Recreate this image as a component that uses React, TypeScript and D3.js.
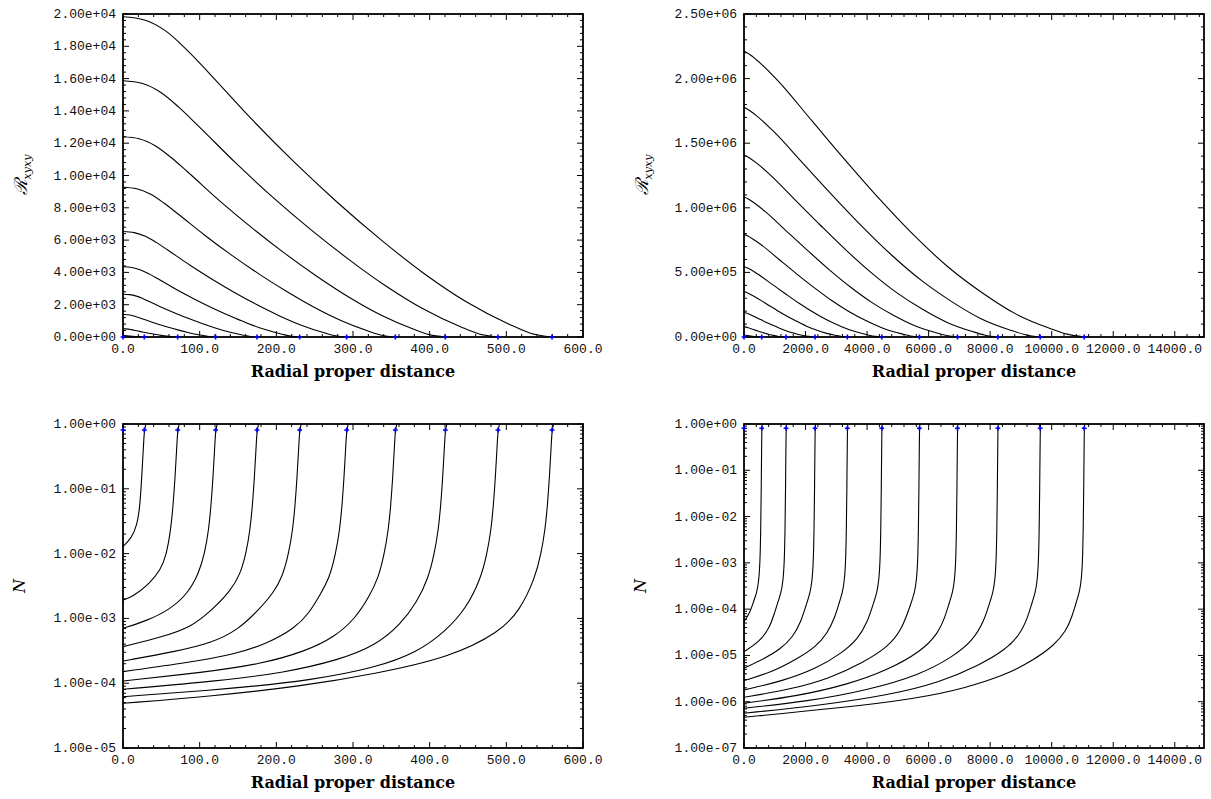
import React from "react";
import * as d3 from "d3";

type Curve = { x: number[]; y: number[] };

// ---------- Top-left: R_xyxy vs radial proper distance (small stars) ----------
const tlCurves: Curve[] = [
  { x: [0, 28.0, 56.0, 83.9, 111.9, 167.9, 223.8, 279.8, 335.8, 391.7, 447.7, 503.6, 531.6, 559.6], y: [19830, 19632, 18938, 17748, 16360, 13484, 10807, 8329, 6048, 3966, 2181, 793, 238, 0] },
  { x: [0, 24.5, 48.9, 73.4, 97.8, 146.7, 195.6, 244.6, 293.5, 342.4, 391.3, 440.2, 464.6, 489.1], y: [15870, 15711, 15156, 14204, 13093, 10792, 8649, 6665, 4840, 3174, 1746, 635, 190, 0] },
  { x: [0, 21.0, 42.0, 63.1, 84.1, 126.1, 168.2, 210.2, 252.2, 294.3, 336.3, 378.4, 399.4, 420.4], y: [12400, 12276, 11842, 11098, 10230, 8432, 6758, 5208, 3782, 2480, 1364, 496, 149, 0] },
  { x: [0, 17.8, 35.5, 53.3, 71.0, 106.6, 142.1, 177.6, 213.1, 248.6, 284.2, 319.7, 337.4, 355.2], y: [9270, 9177, 8853, 8297, 7648, 6304, 5052, 3893, 2827, 1854, 1020, 371, 111, 0] },
  { x: [0, 14.6, 29.2, 43.8, 58.3, 87.5, 116.7, 145.9, 175.0, 204.2, 233.4, 262.5, 277.1, 291.7], y: [6530, 6465, 6236, 5844, 5387, 4440, 3559, 2743, 1992, 1306, 718, 261, 78, 0] },
  { x: [0, 11.5, 23.0, 34.6, 46.1, 69.1, 92.2, 115.2, 138.2, 161.3, 184.3, 207.4, 218.9, 230.4], y: [4350, 4307, 4154, 3893, 3589, 2958, 2371, 1827, 1327, 870, 479, 174, 52, 0] },
  { x: [0, 8.7, 17.5, 26.2, 35.0, 52.4, 69.9, 87.4, 104.9, 122.4, 139.8, 157.3, 166.1, 174.8], y: [2650, 2624, 2531, 2372, 2186, 1802, 1444, 1113, 808, 530, 292, 106, 32, 0] },
  { x: [0, 6.0, 12.1, 18.1, 24.2, 36.2, 48.3, 60.4, 72.5, 84.6, 96.6, 108.7, 114.8, 120.8], y: [1390, 1376, 1327, 1244, 1147, 945, 758, 584, 424, 278, 153, 56, 17, 0] },
  { x: [0, 3.6, 7.1, 10.7, 14.3, 21.4, 28.5, 35.7, 42.8, 49.9, 57.0, 64.2, 67.7, 71.3], y: [510, 505, 487, 456, 421, 347, 278, 214, 156, 102, 56, 20, 6, 0] },
  { x: [0, 1.4, 2.8, 4.2, 5.6, 8.3, 11.1, 13.9, 16.7, 19.5, 22.2, 25.0, 26.4, 27.8], y: [90, 89, 86, 81, 74, 61, 49, 38, 27, 18, 10, 4, 1, 0] },
];

// ---------- Top-right: R_xyxy (large stars) ----------
const trCurves: Curve[] = [
  { x: [0, 221, 553, 1106, 2211, 3317, 4423, 5529, 6634, 7740, 8846, 9951, 10504, 11057], y: [2214000, 2181000, 2114000, 1982000, 1672000, 1362000, 1063000, 786000, 542000, 343000, 177000, 66000, 22000, 0] },
  { x: [0, 193, 481, 963, 1925, 2888, 3850, 4813, 5776, 6738, 7701, 8663, 9145, 9626], y: [1778000, 1751000, 1698000, 1591000, 1342000, 1093000, 853000, 631000, 436000, 276000, 142000, 53000, 18000, 0] },
  { x: [0, 165, 413, 825, 1650, 2475, 3300, 4125, 4950, 5775, 6600, 7425, 7838, 8250], y: [1409000, 1388000, 1346000, 1261000, 1064000, 867000, 676000, 500000, 345000, 218000, 113000, 42000, 14000, 0] },
  { x: [0, 139, 347, 694, 1387, 2081, 2775, 3469, 4162, 4856, 5550, 6243, 6590, 6937], y: [1084000, 1068000, 1035000, 970000, 818000, 667000, 520000, 385000, 266000, 168000, 87000, 33000, 11000, 0] },
  { x: [0, 114, 285, 570, 1140, 1710, 2280, 2851, 3421, 3991, 4561, 5131, 5416, 5701], y: [795000, 783000, 759000, 712000, 600000, 489000, 382000, 282000, 195000, 123000, 64000, 24000, 8000, 0] },
  { x: [0, 90, 224, 448, 896, 1343, 1791, 2239, 2687, 3135, 3582, 4030, 4254, 4478], y: [544000, 536000, 520000, 487000, 411000, 335000, 261000, 193000, 133000, 84000, 44000, 16000, 5000, 0] },
  { x: [0, 67, 168, 336, 672, 1008, 1344, 1680, 2015, 2351, 2687, 3023, 3191, 3359], y: [351000, 346000, 335000, 314000, 265000, 216000, 168000, 125000, 86000, 54000, 28000, 11000, 3500, 0] },
  { x: [0, 46, 115, 231, 462, 693, 924, 1155, 1385, 1616, 1847, 2078, 2194, 2309], y: [191000, 188000, 182000, 171000, 144000, 117000, 92000, 68000, 47000, 30000, 15000, 6000, 2000, 0] },
  { x: [0, 27, 68, 137, 273, 410, 546, 683, 820, 956, 1093, 1229, 1298, 1366], y: [80000, 78800, 76400, 71600, 60400, 49200, 38400, 28400, 19600, 12400, 6400, 2400, 800, 0] },
  { x: [0, 12, 29, 58, 115, 173, 230, 288, 346, 403, 461, 518, 547, 576], y: [15000, 14800, 14300, 13400, 11300, 9200, 7200, 5300, 3700, 2300, 1200, 450, 150, 0] },
];

// ---------- Bottom-left: lapse N (small stars) ----------
const blCurves: Curve[] = [
  { x: [0, 11.1, 18.0, 21.9, 24.5, 26.5, 27.8, 29.8], y: [0.0128, 0.0174, 0.0269, 0.0501, 0.155, 0.417, 0.807, 1] },
  { x: [0, 13.0, 35.0, 49.1, 56.6, 62.2, 65.4, 68.0, 70.0, 71.3, 73.3], y: [1.92e-3, 2.16e-3, 3.48e-3, 5.62e-3, 9.55e-3, 0.0229, 0.0562, 0.155, 0.417, 0.807, 1] },
  { x: [0, 30.2, 60.4, 84.5, 99.0, 106.5, 111.7, 114.9, 117.5, 119.5, 120.8, 122.8], y: [7.03e-4, 9.12e-4, 1.35e-3, 2.4e-3, 5.01e-3, 0.01, 0.0229, 0.0562, 0.155, 0.417, 0.807, 1] },
  { x: [0, 52.5, 87.4, 116.1, 139.8, 152.6, 160.5, 165.7, 168.9, 171.5, 173.5, 174.8, 176.8], y: [3.66e-4, 5.25e-4, 7.16e-4, 1.35e-3, 2.63e-3, 4.68e-3, 0.01, 0.0229, 0.0562, 0.155, 0.417, 0.807, 1] },
  { x: [0, 69.2, 115.2, 149.8, 176.9, 196.5, 208.2, 216.1, 221.3, 224.5, 227.1, 229.1, 230.4, 232.4], y: [2.2e-4, 3.09e-4, 4.17e-4, 6.61e-4, 1.35e-3, 2.51e-3, 4.47e-3, 0.01, 0.0229, 0.0562, 0.155, 0.417, 0.807, 1] },
  { x: [0, 87.6, 145.9, 189.6, 223.9, 242.1, 257.8, 269.5, 277.4, 282.6, 285.8, 288.4, 290.4, 291.7, 293.7], y: [1.51e-4, 2.1e-4, 2.79e-4, 4.17e-4, 7.08e-4, 1.17e-3, 2.4e-3, 4.27e-3, 0.01, 0.0229, 0.0562, 0.155, 0.417, 0.807, 1] },
  { x: [0, 106.6, 177.8, 237.8, 276.9, 303.0, 321.3, 333.0, 340.9, 346.1, 349.3, 351.9, 353.9, 355.2, 357.2], y: [1.08e-4, 1.48e-4, 1.95e-4, 3.09e-4, 5.25e-4, 1.0e-3, 2.19e-3, 4.17e-3, 0.01, 0.0229, 0.0562, 0.155, 0.417, 0.807, 1] },
  { x: [0, 126.1, 210.4, 282.1, 329.1, 361.7, 383.9, 398.2, 406.1, 411.3, 414.5, 417.1, 419.1, 420.4, 422.4], y: [8.05e-5, 1.09e-4, 1.45e-4, 2.29e-4, 3.8e-4, 7.94e-4, 1.82e-3, 4.17e-3, 0.01, 0.0229, 0.0562, 0.155, 0.417, 0.807, 1] },
  { x: [0, 146.7, 244.5, 327.4, 384.8, 421.3, 447.4, 466.9, 474.8, 480.0, 483.2, 485.8, 487.8, 489.1, 491.1], y: [6.19e-5, 8.32e-5, 1.11e-4, 1.7e-4, 3.02e-4, 6.46e-4, 1.41e-3, 4.17e-3, 0.01, 0.0229, 0.0562, 0.155, 0.417, 0.807, 1] },
  { x: [0, 116.1, 230.9, 331.3, 426.6, 491.8, 517.9, 537.4, 545.3, 550.5, 553.7, 556.3, 558.3, 559.6, 561.6], y: [4.9e-5, 6.31e-5, 8.91e-5, 1.41e-4, 2.51e-4, 6.17e-4, 1.35e-3, 4.17e-3, 0.01, 0.0229, 0.0562, 0.155, 0.417, 0.807, 1] },
];

// ---------- Bottom-right: lapse N (large stars) ----------
const brCurves: Curve[] = [
  { x: [0, 195.5, 315.8, 413.4, 478.4, 520.7, 543.5, 559.7, 576, 592.3], y: [5.37e-5, 8.32e-5, 1.51e-4, 2.24e-4, 3.98e-4, 1.0e-3, 5.01e-3, 0.0316, 0.807, 1] },
  { x: [0, 520.5, 845.7, 975.8, 1105.8, 1203.4, 1268.4, 1310.7, 1333.5, 1349.7, 1366, 1382.3], y: [1.21e-5, 2.0e-5, 4.17e-5, 7.59e-5, 1.45e-4, 2.24e-4, 3.98e-4, 1.0e-3, 5.01e-3, 0.0316, 0.807, 1] },
  { x: [0, 683, 1170.8, 1593.6, 1853.7, 2048.8, 2146.4, 2211.4, 2253.7, 2276.5, 2292.7, 2309, 2325.3], y: [5.28e-6, 8.71e-6, 1.35e-5, 2.51e-5, 5.37e-5, 1.41e-4, 2.24e-4, 3.98e-4, 1.0e-3, 5.01e-3, 0.0316, 0.807, 1] },
  { x: [0, 920, 1733, 2318.4, 2708.6, 2968.8, 3098.8, 3196.4, 3261.4, 3303.7, 3326.5, 3342.7, 3359, 3375.3], y: [2.86e-6, 4.37e-6, 8.51e-6, 1.51e-5, 2.95e-5, 7.08e-5, 1.41e-4, 2.24e-4, 3.98e-4, 1.0e-3, 5.01e-3, 0.0316, 0.807, 1] },
  { x: [0, 1226, 2364.2, 3177.2, 3697.5, 4022.7, 4217.8, 4315.4, 4380.4, 4422.7, 4445.5, 4461.7, 4478, 4494.3], y: [1.8e-6, 2.75e-6, 5.25e-6, 1.12e-5, 2.24e-5, 5.37e-5, 1.41e-4, 2.24e-4, 3.98e-4, 1.0e-3, 5.01e-3, 0.0316, 0.807, 1] },
  { x: [0, 1473.4, 2774.2, 3912.4, 4660.4, 5115.6, 5440.8, 5538.4, 5603.4, 5645.7, 5668.5, 5684.7, 5701, 5717.3], y: [1.25e-6, 1.82e-6, 3.16e-6, 7.24e-6, 1.51e-5, 3.39e-5, 1.41e-4, 2.24e-4, 3.98e-4, 1.0e-3, 5.01e-3, 0.0316, 0.807, 1] },
  { x: [0, 1734, 3360, 4660.6, 5733.8, 6286.6, 6546.8, 6676.8, 6774.4, 6839.4, 6881.7, 6904.5, 6920.7, 6937, 6953.3], y: [9.29e-7, 1.32e-6, 2.34e-6, 4.79e-6, 1.2e-5, 2.82e-5, 7.08e-5, 1.41e-4, 2.24e-4, 3.98e-4, 1.0e-3, 5.01e-3, 0.0316, 0.807, 1] },
  { x: [0, 2071.2, 4022.4, 5713.4, 6786.6, 7437, 7794.7, 7989.8, 8087.4, 8152.4, 8194.7, 8217.5, 8233.7, 8250, 8266.3], y: [7.24e-7, 1.02e-6, 1.78e-6, 3.8e-6, 9.33e-6, 2.09e-5, 5.37e-5, 1.41e-4, 2.24e-4, 3.98e-4, 1.0e-3, 5.01e-3, 0.0316, 0.807, 1] },
  { x: [0, 2471.6, 4748, 6374, 7674.8, 8487.8, 8975.6, 9235.8, 9365.8, 9463.4, 9528.4, 9570.7, 9593.5, 9609.7, 9626, 9642.3], y: [5.65e-7, 8.32e-7, 1.41e-6, 2.63e-6, 6.31e-6, 1.32e-5, 2.82e-5, 7.08e-5, 1.41e-4, 2.24e-4, 3.98e-4, 1.0e-3, 5.01e-3, 0.0316, 0.807, 1] },
  { x: [0, 2927, 5723.7, 7154.6, 8520.4, 9431, 10081.4, 10471.6, 10666.8, 10796.8, 10894.4, 10959.4, 11001.7, 11024.5, 11040.7, 11057, 11073.3], y: [4.62e-7, 7.08e-7, 1.2e-6, 1.95e-6, 3.8e-6, 8.13e-6, 1.66e-5, 3.39e-5, 7.08e-5, 1.41e-4, 2.24e-4, 3.98e-4, 1.0e-3, 5.01e-3, 0.0316, 0.807, 1] },
];

// surface radii (blue markers)
const smallSurfaceRadii = [0, 27.8, 71.3, 120.8, 174.8, 230.4, 291.7, 355.2, 420.4, 489.1, 559.6];
const largeSurfaceRadii = [0, 576, 1366, 2309, 3359, 4478, 5701, 6937, 8250, 9626, 11057];
const surfaceRiemann = 0;
const surfaceLapse = 0.807;

// axes
const smallXMax = 600;
const largeXMax = 14950;
const smallXTicks = [0, 100, 200, 300, 400, 500, 600];
const largeXTicks = [0, 2000, 4000, 6000, 8000, 10000, 12000, 14000];
const tlYTicks = [0, 2000, 4000, 6000, 8000, 10000, 12000, 14000, 16000, 18000, 20000];
const trYTicks = [0, 500000, 1000000, 1500000, 2000000, 2500000];
const blYTicks = [1e-5, 1e-4, 1e-3, 1e-2, 1e-1, 1];
const brYTicks = [1e-7, 1e-6, 1e-5, 1e-4, 1e-3, 1e-2, 1e-1, 1];

const xTitle = "Radial proper distance";

const fmtX = (v: number) => v.toFixed(1);
const fmtExp = (v: number) =>
  v.toExponential(2).replace(/e([+-])(\d)$/, (_m, s, d) => `e${s}0${d}`);

const MONO = "'Liberation Mono', 'DejaVu Sans Mono', monospace";
const SERIF = "'DejaVu Serif', 'Liberation Serif', serif";

type PanelProps = {
  id: string;
  left: number;
  top: number;
  width: number;
  height: number;
  xMax: number;
  xTicks: number[];
  xMinorStep: number;
  yLog: boolean;
  yDomain: number[];
  yTicks: number[];
  yMinorStep?: number;
  curves: Curve[];
  markers: number[];
  markerY: number;
  yLabel: React.ReactNode;
};

function Panel(p: PanelProps) {
  const { left, top, width, height } = p;
  const right = left + width;
  const bottom = top + height;
  const x = d3.scaleLinear().domain([0, p.xMax]).range([left, right]);
  const y: any = p.yLog
    ? d3.scaleLog().domain(p.yDomain).range([bottom, top])
    : d3.scaleLinear().domain(p.yDomain).range([bottom, top]);

  const line = d3
    .line<[number, number]>()
    .x((d) => x(d[0]))
    .y((d) => y(d[1]))
    .curve(p.yLog ? d3.curveBasis : d3.curveMonotoneX);

  const xMinor = d3
    .range(0, p.xMax + 1e-9, p.xMinorStep)
    .filter((v) => !p.xTicks.some((t) => Math.abs(t - v) < 1e-6));
  const yMajor: number[] = p.yTicks;
  let yMinor: number[] = [];
  if (p.yLog) {
    const lo = Math.round(Math.log10(p.yDomain[0]));
    const hi = Math.round(Math.log10(p.yDomain[1]));
    for (let k = lo; k < hi; k++) for (let m = 2; m <= 9; m++) yMinor.push(m * Math.pow(10, k));
  } else {
    yMinor = d3
      .range(p.yDomain[0], p.yDomain[1] + 1e-6, p.yMinorStep!)
      .filter((v) => !yMajor.some((t) => Math.abs(t - v) < 1e-6));
  }
  const MAJ = 6;
  const MIN = 3;
  const sym = d3.symbol(d3.symbolCross, 13)();

  return (
    <g>
      <defs>
        <clipPath id={`clip-${p.id}`}>
          <rect x={left} y={top - 1} width={width} height={height + 1} />
        </clipPath>
      </defs>
      <g clipPath={`url(#clip-${p.id})`}>
        {p.curves.map((c, i) => (
          <path
            key={i}
            d={line(c.x.map((v, j) => [v, c.y[j]] as [number, number])) || ""}
            fill="none"
            stroke="#000"
            strokeWidth={1.1}
          />
        ))}
      </g>
      <g stroke="#000" strokeWidth={1}>
        {p.xTicks.map((t) => (
          <g key={`xt${t}`}>
            <line x1={x(t)} x2={x(t)} y1={bottom} y2={bottom - MAJ} />
            <line x1={x(t)} x2={x(t)} y1={top} y2={top + MAJ} />
          </g>
        ))}
        {xMinor.map((t) => (
          <g key={`xm${t}`}>
            <line x1={x(t)} x2={x(t)} y1={bottom} y2={bottom - MIN} />
            <line x1={x(t)} x2={x(t)} y1={top} y2={top + MIN} />
          </g>
        ))}
        {yMajor.map((t) => (
          <g key={`yt${t}`}>
            <line x1={left} x2={left + MAJ} y1={y(t)} y2={y(t)} />
            <line x1={right} x2={right - MAJ} y1={y(t)} y2={y(t)} />
          </g>
        ))}
        {yMinor.map((t) => (
          <g key={`ym${t}`}>
            <line x1={left} x2={left + MIN} y1={y(t)} y2={y(t)} />
            <line x1={right} x2={right - MIN} y1={y(t)} y2={y(t)} />
          </g>
        ))}
      </g>
      <rect x={left} y={top} width={width} height={height} fill="none" stroke="#000" strokeWidth={1.8} />
      {p.markers.map((m, i) => (
        <path key={`mk${i}`} d={sym} transform={`translate(${x(m)},${y(p.markerY)})`} fill="#0000ff" />
      ))}
      <g fontFamily={MONO} fontSize={13} fill="#111">
        {p.xTicks.map((t) => (
          <text key={`xl${t}`} x={x(t)} y={bottom + 16} textAnchor="middle">
            {fmtX(t)}
          </text>
        ))}
        {yMajor.map((t) => (
          <text key={`yl${t}`} x={left - 7} y={y(t) + 4} textAnchor="end">
            {fmtExp(t)}
          </text>
        ))}
      </g>
      <text x={(left + right) / 2} y={bottom + 40} textAnchor="middle" fontFamily={SERIF} fontWeight="bold" fontSize={16} fill="#000">
        {xTitle}
      </text>
      {p.yLabel}
    </g>
  );
}

function RLabel({ x, cy }: { x: number; cy: number }) {
  return (
    <text transform={`translate(${x},${cy}) rotate(-90)`} textAnchor="middle" fontFamily={SERIF} fontStyle="italic" fill="#000">
      <tspan fontSize={18}>ℛ</tspan>
      <tspan fontSize={11} dy={4}>xyxy</tspan>
    </text>
  );
}

function NLabel({ x, cy }: { x: number; cy: number }) {
  return (
    <text transform={`translate(${x},${cy}) rotate(-90)`} textAnchor="middle" fontFamily={SERIF} fontStyle="italic" fontSize={16} fill="#000">
      N
    </text>
  );
}

export default function App() {
  const W = 460;
  const H = 323;
  const HB = 324;
  return (
    <svg width={1211} height={799} style={{ position: "absolute", left: 0, top: 0, background: "#fff" }}>
      <Panel
        id="tl"
        left={123}
        top={14}
        width={W}
        height={H}
        xMax={smallXMax}
        xTicks={smallXTicks}
        xMinorStep={20}
        yLog={false}
        yDomain={[0, 20000]}
        yTicks={tlYTicks}
        yMinorStep={400}
        curves={tlCurves}
        markers={smallSurfaceRadii}
        markerY={surfaceRiemann}
        yLabel={<RLabel x={27} cy={175} />}
      />
      <Panel
        id="tr"
        left={744}
        top={14}
        width={W}
        height={H}
        xMax={largeXMax}
        xTicks={largeXTicks}
        xMinorStep={400}
        yLog={false}
        yDomain={[0, 2500000]}
        yTicks={trYTicks}
        yMinorStep={100000}
        curves={trCurves}
        markers={largeSurfaceRadii}
        markerY={surfaceRiemann}
        yLabel={<RLabel x={648} cy={175} />}
      />
      <Panel
        id="bl"
        left={123}
        top={424}
        width={W}
        height={HB}
        xMax={smallXMax}
        xTicks={smallXTicks}
        xMinorStep={20}
        yLog={true}
        yDomain={[1e-5, 1]}
        yTicks={blYTicks}
        curves={blCurves}
        markers={smallSurfaceRadii}
        markerY={surfaceLapse}
        yLabel={<NLabel x={25} cy={586} />}
      />
      <Panel
        id="br"
        left={744}
        top={424}
        width={W}
        height={HB}
        xMax={largeXMax}
        xTicks={largeXTicks}
        xMinorStep={400}
        yLog={true}
        yDomain={[1e-7, 1]}
        yTicks={brYTicks}
        curves={brCurves}
        markers={largeSurfaceRadii}
        markerY={surfaceLapse}
        yLabel={<NLabel x={646} cy={586} />}
      />
    </svg>
  );
}
